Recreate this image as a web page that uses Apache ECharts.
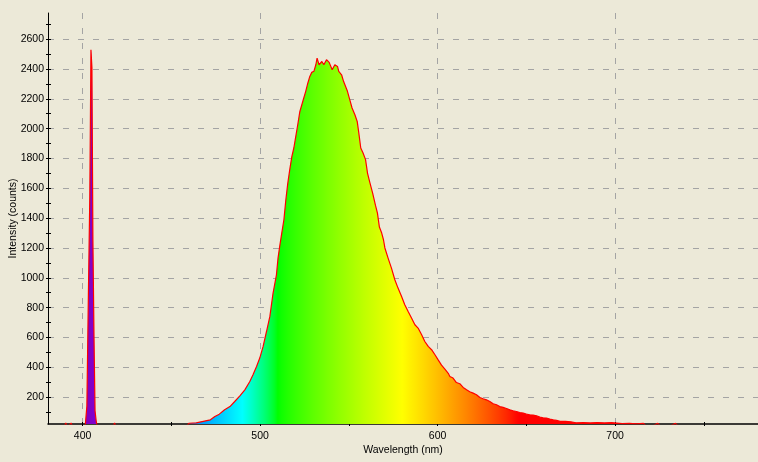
<!DOCTYPE html>
<html>
<head>
<meta charset="utf-8">
<script src="https://cdn.jsdelivr.net/npm/echarts@6/dist/echarts.min.js"></script>
<style>
  html, body { margin: 0; padding: 0; background: #ECE9D8; }
  #chart { width: 758px; height: 462px; }
</style>
</head>
<body>
<div id="chart"></div>
<script>
// ========== 数据 ==========
// laser line near 405 nm
const laserWl =     [401.4, 402.0, 402.8, 403.7, 404.4, 405.0, 405.5, 406.1, 406.7, 407.3, 407.9, 408.5];
const laserCounts = [0,     40,    140,   886,   1545,  2529,  2410,  1250,  618,   108,   45,    0];

// baseline specks
const baseWl =     [381, 389.5, 390.5, 391.5, 392.5, 393.5, 394.5, 398, 410, 417, 418, 419, 425, 440, 452];
const baseCounts = [0,   0,     27,    0,     0,     26,    0,     0,   0,   0,   27,  0,   0,   0,   0];

// broad emission band
const bandWl = [
  458, 460, 464, 468, 472, 474.5, 477, 480, 483, 485.7, 488.6,
  491.4, 494.2, 496, 498, 499.8, 501.7, 503.6, 505.5, 507.3, 509.2,
  510.1, 511.1, 512.2, 513.4, 514.5, 515.6, 516.7, 517.9, 519, 520.1,
  521.2, 522.4, 523.5, 524.6, 525.7, 526.9, 528, 529.1, 530.3, 531.4,
  532.1, 533.2, 534.8, 535.9, 537.4, 538.9, 539.6, 540.6, 542.1, 543.6,
  544.3, 545.9, 547, 548.1, 549.2, 550.5, 551.8, 553.4, 554.7, 555.6,
  556.7, 558, 559.4, 560.5, 561.8, 563.4, 565, 566.1, 567.2, 568.5,
  569.5, 570.3, 572.1, 574, 575.9, 577.7, 579.7, 581.5, 583.4, 585.3,
  587.2, 589, 591, 592.8, 594.7, 596.6, 598.5, 600.4, 602.2, 604.1,
  606, 606.9, 608.7, 610.6, 612.5, 614.4, 616.3, 618.1, 620, 621.9,
  623.8, 625.6, 627.5, 629.4, 631.3, 633.2, 635, 636.9, 638.8, 640.7,
  642.5, 644.4, 646.3, 648.2, 650, 651.9, 653.8, 655.7, 657.6, 659.4,
  661.3, 663.2, 665.1, 667, 669, 672, 675, 678, 682, 686,
  690, 694, 698, 701, 704, 708, 712, 716, 718, 720,
  724, 726, 730, 734, 736, 740, 760, 780
];
const bandCounts = [
  0, 25, 28, 38, 48, 70, 86, 115, 137, 171, 209,
  249, 305, 350, 406, 462, 540, 640, 741, 898, 1020,
  1132, 1216, 1300, 1389, 1523, 1635, 1725, 1814, 1870, 1948,
  2026, 2115, 2160, 2205, 2250, 2306, 2350, 2377, 2384, 2428,
  2473, 2428, 2450, 2428, 2462, 2444, 2450, 2395, 2428, 2417,
  2384, 2361, 2317, 2310, 2250, 2194, 2138, 2093, 2048, 1971,
  1870, 1836, 1792, 1702, 1640, 1568, 1485, 1434, 1340, 1300,
  1255, 1200, 1132, 1065, 987, 931, 875, 819, 774, 730,
  685, 663, 618, 573, 540, 518, 484, 448, 415, 388,
  360, 339, 328, 298, 290, 265, 249, 236, 227, 216,
  198, 189, 182, 171, 156, 149, 137, 131, 124, 115,
  109, 104, 97, 93, 86, 82, 80, 75, 66, 62,
  60, 53, 48, 44, 38, 37, 35, 28, 29, 27,
  30, 27, 29, 26, 22, 24, 21, 24, 0, 0,
  24, 0, 0, 24, 0, 0, 0, 0
];

const xLabels = [400, 500, 600, 700];
const xTicks = [400, 450, 500, 550, 600, 650, 700, 750];
const yLabels = [200, 400, 600, 800, 1000, 1200, 1400, 1600, 1800, 2000, 2200, 2400, 2600];
const yTicks = [100, 200, 300, 400, 500, 600, 700, 800, 900, 1000, 1100, 1200, 1300, 1400,
  1500, 1600, 1700, 1800, 1900, 2000, 2100, 2200, 2300, 2400, 2500, 2600, 2700];

// ========== 组装数据 ==========
const laserPoints = laserWl.map((w, i) => [w, laserCounts[i]]);
const bandPoints = [];
baseWl.forEach((w, i) => bandPoints.push([w, baseCounts[i]]));
bandWl.forEach((w, i) => bandPoints.push([w, bandCounts[i]]));
bandPoints.sort((a, b) => a[0] - b[0]);

// 波长 -> 颜色
const wlColor = (w) => {
  let r = 0, g = 0, b = 0;
  if (w < 440) { r = -(w - 440) / 60; b = 1; }
  else if (w < 490) { g = (w - 440) / 50; b = 1; }
  else if (w < 510) { g = 1; b = -(w - 510) / 20; }
  else if (w < 580) { r = (w - 510) / 70; g = 1; }
  else if (w < 645) { r = 1; g = -(w - 645) / 65; }
  else { r = 1; }
  let f = 1;
  if (w < 420) f = 0.3 + 0.7 * (w - 380) / 40;
  else if (w > 700) f = 0.3 + 0.7 * (780 - w) / 80;
  const c = v => Math.round(255 * Math.pow(v * f, 0.8));
  return `rgb(${c(r)},${c(g)},${c(b)})`;
};
const spectrumColors = [];
for (let w = 380; w <= 780; w++) spectrumColors.push(wlColor(w));

const X_MIN = 380.5, X_MAX = 780.5;
const Y_MIN = 20, Y_MAX = 2775;
const font = 'Liberation Sans';
const gridLine = { show: true, lineStyle: { color: '#A4A4A4', type: [6, 9], width: 1 } };
const plain = v => String(v);

const fillSeries = (name, data, step) => ({
  name, type: 'line', data, step, symbol: 'none',
  lineStyle: { width: 0 }, areaStyle: { opacity: 1 }, z: 2
});
const outlineSeries = (name, data, step) => ({
  name, type: 'line', data, step, symbol: 'none',
  lineStyle: { color: '#FF0000', width: 1.2 }, itemStyle: { color: '#FF0000' }, z: 3
});

const chart = echarts.init(document.getElementById('chart'));
chart.setOption({
  backgroundColor: '#ECE9D8',
  animation: false,
  grid: { left: 48, right: 0, top: 13, bottom: 38, outerBoundsMode: 'none' },
  visualMap: {
    show: false,
    type: 'continuous',
    seriesIndex: [0, 1],
    dimension: 0,
    min: 380,
    max: 780,
    inRange: { color: spectrumColors }
  },
  xAxis: [
    {
      type: 'value', min: X_MIN, max: X_MAX, position: 'bottom',
      name: 'Wavelength (nm)', nameLocation: 'middle', nameGap: 21, nameMoveOverlap: false,
      nameTextStyle: { color: '#000', fontFamily: font, fontSize: 10.5 },
      axisLine: { onZero: false, lineStyle: { color: '#000', width: 1.5 } },
      axisTick: { show: false, customValues: xLabels },
      axisLabel: { customValues: xLabels, formatter: plain, color: '#000', fontFamily: font, fontSize: 10.5, margin: 7 },
      splitLine: gridLine
    },
    {
      type: 'value', min: X_MIN, max: X_MAX, position: 'bottom',
      axisLine: { show: false, onZero: false },
      axisTick: { customValues: xTicks, length: 2, lineStyle: { color: '#000' } },
      axisLabel: { show: false }, splitLine: { show: false }
    },
    {
      type: 'value', min: X_MIN, max: X_MAX, position: 'bottom',
      axisLine: { show: false, onZero: false },
      axisTick: { customValues: xTicks, inside: true, length: 2, lineStyle: { color: '#000' } },
      axisLabel: { show: false }, splitLine: { show: false }
    }
  ],
  yAxis: [
    {
      type: 'value', min: Y_MIN, max: Y_MAX, position: 'left',
      name: 'Intensity (counts)', nameLocation: 'middle', nameGap: 29, nameMoveOverlap: false,
      nameTextStyle: { color: '#000', fontFamily: font, fontSize: 10.5 },
      axisLine: { show: true, onZero: false, lineStyle: { color: '#000', width: 1 } },
      axisTick: { show: false, customValues: yLabels },
      axisLabel: { customValues: yLabels, formatter: plain, color: '#000', fontFamily: font, fontSize: 10.5, margin: 4 },
      splitLine: gridLine
    },
    {
      type: 'value', min: Y_MIN, max: Y_MAX, position: 'left',
      axisLine: { show: false, onZero: false },
      axisTick: { show: true, customValues: yTicks, length: 2, lineStyle: { color: '#000' } },
      axisLabel: { show: false }, splitLine: { show: false }
    },
    {
      type: 'value', min: Y_MIN, max: Y_MAX, position: 'left',
      axisLine: { show: false, onZero: false },
      axisTick: { show: true, customValues: yTicks, inside: true, length: 3, lineStyle: { color: '#000' } },
      axisLabel: { show: false }, splitLine: { show: false }
    }
  ],
  series: [
    fillSeries('laserFill', laserPoints, 'middle'),
    fillSeries('bandFill', bandPoints, false),
    outlineSeries('laserLine', laserPoints, 'middle'),
    outlineSeries('bandLine', bandPoints, false)
  ]
});
</script>
</body>
</html>
